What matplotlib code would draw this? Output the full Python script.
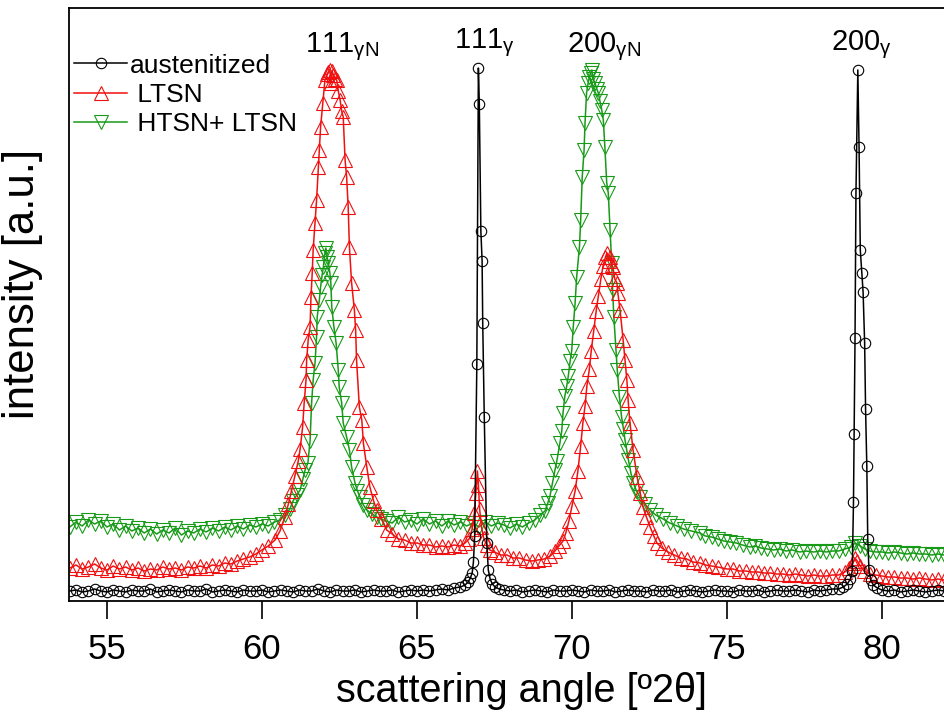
import matplotlib
matplotlib.use("Agg")
import matplotlib.pyplot as plt

# XRD scans (2theta in deg, intensity in a.u.)
aus = [(53.8,10),(54.0,11),(54.2,9),(54.4,10),(54.6,12),(54.8,10),(55.0,9),(55.2,11),(55.4,10),(55.6,9),
       (55.8,11),(56.0,10),(56.2,10),(56.4,12),(56.6,9),(56.8,10),(57.0,11),(57.2,10),(57.4,9),(57.6,11),
       (57.8,10),(58.0,10),(58.2,12),(58.4,9),(58.6,10),(58.8,11),(59.0,10),(59.2,9),(59.4,11),(59.6,10),
       (59.8,10),(60.0,11),(60.2,9),(60.4,10),(60.6,11),(60.8,10),(61.0,9),(61.2,11),(61.4,10),(61.6,10),
       (61.8,12),(62.0,10),(62.2,9),(62.4,11),(62.6,10),(62.8,10),(63.0,11),(63.2,9),(63.4,10),(63.6,11),
       (63.8,10),(64.0,10),(64.2,11),(64.4,9),(64.6,10),(64.8,11),(65.0,10),(65.2,11),(65.4,10),(65.6,11),
       (65.8,12),(66.0,11),(66.2,13),(66.4,14),(66.55,16),(66.65,19),(66.72,23),(66.78,28),(66.82,39),
       (66.86,65),(66.93,237),(66.98,533),(67.01,497),(67.06,370),(67.10,340),(67.12,278),(67.17,184),
       (67.25,58),(67.30,31),(67.36,22),(67.43,17),(67.52,14),(67.65,12),(67.8,11),(68.0,10),(68.2,11),
       (68.4,9),(68.6,10),(68.8,11),(69.0,10),(69.2,9),(69.4,11),(69.6,10),(69.8,10),(70.0,11),(70.2,10),
       (70.4,9),(70.6,11),(70.8,10),(71.0,10),(71.2,11),(71.4,9),(71.6,10),(71.8,11),(72.0,10),(72.2,10),
       (72.4,9),(72.6,11),(72.8,10),(73.0,10),(73.2,11),(73.4,9),(73.6,10),(73.8,11),(74.0,10),(74.2,9),
       (74.4,10),(74.6,11),(74.8,10),(75.0,10),(75.2,9),(75.4,11),(75.6,10),(75.8,10),(76.0,11),(76.2,9),
       (76.4,10),(76.6,11),(76.8,10),(77.0,10),(77.2,11),(77.4,10),(77.6,9),(77.8,11),(78.0,10),(78.2,11),
       (78.4,12),(78.6,12),(78.75,14),(78.88,17),(78.98,22),(79.04,30),(79.08,99),(79.10,167),(79.13,263),
       (79.16,408),(79.22,531),(79.26,454),(79.30,351),(79.35,328),(79.39,309),(79.44,258),(79.47,192),
       (79.51,135),(79.54,62),(79.58,31),(79.64,21),(79.72,16),(79.85,13),(80.0,11),(80.2,10),(80.4,11),
       (80.6,9),(80.8,10),(81.0,11),(81.2,10),(81.4,9),(81.6,10),(81.8,11),(82.0,10),(82.2,10),(82.4,11),
       (82.6,10)]

ltsn = [(53.8,33),(54.0,36),(54.2,32),(54.4,34),(54.6,37),(54.8,33),(55.0,31),(55.2,35),(55.4,32),(55.6,34),
        (55.8,31),(56.0,33),(56.2,30),(56.4,32),(56.6,31),(56.8,34),(57.0,32),(57.2,33),(57.4,31),(57.6,34),
        (57.8,33),(58.0,35),(58.2,33),(58.4,36),(58.6,35),(58.8,38),(59.0,37),(59.2,40),(59.4,42),(59.6,44),
        (59.8,47),(60.0,51),(60.2,55),(60.42,61),(60.58,70),(60.74,84),(60.85,97),(60.95,110),(61.06,125),
        (61.17,140),(61.23,152),(61.31,174),(61.36,198),(61.42,221),(61.44,241),(61.49,261),(61.55,274),
        (61.58,304),(61.62,328),(61.65,351),(61.71,378),(61.76,401),(61.82,434),(61.85,451),(61.89,474),
        (61.96,498),(62.03,521),(62.10,527),(62.14,529),(62.19,531),(62.22,518),(62.26,530),(62.30,526),
        (62.36,522),(62.41,521),(62.46,510),(62.52,501),(62.57,490),(62.62,484),(62.68,441),(62.73,424),
        (62.78,394),(62.82,354),(62.89,318),(62.98,291),(63.02,271),(63.05,241),(63.14,194),(63.22,181),
        (63.27,158),(63.38,134),(63.48,114),(63.60,100),(63.70,91),(63.85,82),(64.02,71),(64.2,67),(64.4,62),
        (64.6,61),(64.8,58),(65.0,58),(65.2,56),(65.4,56),(65.6,54),(65.8,55),(66.0,54),(66.2,56),(66.4,55),
        (66.55,58),(66.68,62),(66.78,72),(66.85,88),(66.90,108),(66.95,130),(66.98,116),(67.02,92),(67.08,74),
        (67.15,63),(67.25,56),(67.35,51),(67.5,49),(67.7,46),(67.9,46),(68.1,43),(68.3,43),(68.5,41),(68.7,40),
        (68.9,41),(69.1,42),(69.3,45),(69.45,50),(69.58,55),(69.71,60),(69.80,68),(69.90,80),(70.0,95),
        (70.10,110),(70.19,130),(70.28,155),(70.35,178),(70.42,195),(70.48,215),(70.56,232),(70.62,250),
        (70.70,270),(70.78,290),(70.85,305),(70.93,322),(71.0,335),(71.08,344),(71.13,348),(71.18,340),
        (71.23,344),(71.28,336),(71.32,334),(71.38,322),(71.45,318),(71.48,308),(71.55,291),(71.65,261),
        (71.71,241),(71.77,221),(71.81,201),(71.87,178),(71.97,151),(72.10,124),(72.20,108),(72.29,94),
        (72.40,84),(72.52,74),(72.64,65),(72.74,58),(72.9,53),(73.1,49),(73.3,46),(73.5,43),(73.7,42),
        (73.9,39),(74.13,38),(74.3,36),(74.5,35),(74.7,34),(75.0,32),(75.2,32),(75.4,30),(75.6,30),(75.8,29),
        (76.0,29),(76.2,28),(76.4,28),(76.6,27),(76.8,27),(77.0,26),(77.2,27),(77.4,26),(77.6,25),(77.8,26),
        (78.0,25),(78.2,25),(78.4,26),(78.6,26),(78.8,29),(78.95,33),(79.05,38),(79.13,43),(79.2,40),
        (79.3,35),(79.42,30),(79.6,27),(79.8,26),(80.0,25),(80.2,24),(80.4,24),(80.6,23),(80.8,23),(81.0,22),
        (81.2,23),(81.4,22),(81.6,21),(81.8,22),(82.0,21),(82.2,21),(82.4,20),(82.6,21)]

htsn = [(53.8,74),(54.0,79),(54.2,75),(54.4,81),(54.6,77),(54.8,80),(55.0,74),(55.2,77),(55.4,71),(55.6,75),
        (55.8,70),(56.0,73),(56.2,68),(56.4,72),(56.6,67),(56.8,71),(57.0,68),(57.2,73),(57.4,66),(57.6,70),
        (57.8,68),(58.0,72),(58.2,69),(58.4,73),(58.6,70),(58.8,74),(59.0,71),(59.2,75),(59.4,72),(59.6,76),
        (59.8,74),(60.0,77),(60.2,75),(60.4,79),(60.58,81),(60.74,86),(60.90,92),(61.0,100),(61.12,106),
        (61.23,111),(61.32,122),(61.39,131),(61.48,138),(61.55,160),(61.60,198),(61.65,221),(61.71,238),
        (61.76,264),(61.78,284),(61.85,301),(61.89,314),(61.94,326),(61.98,334),(62.03,348),(62.06,353),
        (62.10,344),(62.14,338),(62.19,328),(62.22,318),(62.25,294),(62.32,274),(62.39,258),(62.46,231),
        (62.49,214),(62.57,198),(62.62,178),(62.73,164),(62.82,151),(62.89,134),(63.0,118),(63.08,110),
        (63.16,104),(63.27,96),(63.38,91),(63.55,87),(63.70,84),(63.85,82),(64.0,80),(64.2,78),(64.4,84),
        (64.6,79),(64.8,81),(65.0,77),(65.2,82),(65.4,77),(65.6,80),(65.8,75),(66.0,80),(66.2,76),(66.4,79),
        (66.6,75),(66.8,78),(67.0,74),(67.2,79),(67.4,75),(67.6,78),(67.8,76),(68.0,73),(68.2,77),(68.4,74),
        (68.6,78),(68.8,81),(68.97,86),(69.13,90),(69.22,98),(69.29,105),(69.37,118),(69.45,131),(69.51,140),
        (69.61,158),(69.67,170),(69.71,188),(69.77,205),(69.83,215),(69.88,225),(69.94,240),(69.99,250),
        (70.04,274),(70.10,298),(70.15,324),(70.24,354),(70.28,381),(70.33,424),(70.39,451),(70.42,478),
        (70.47,508),(70.52,518),(70.56,524),(70.60,528),(70.64,531),(70.68,522),(70.74,518),(70.80,512),
        (70.85,508),(70.90,500),(70.96,491),(71.01,481),(71.06,454),(71.12,418),(71.17,408),(71.23,371),
        (71.28,338),(71.31,311),(71.35,284),(71.42,251),(71.46,231),(71.53,204),(71.60,184),(71.66,172),
        (71.71,161),(71.77,150),(71.82,141),(71.90,128),(71.98,118),(72.08,110),(72.19,104),(72.35,97),
        (72.52,91),(72.7,86),(72.94,82),(73.15,78),(73.39,75),(73.6,72),(73.85,70),(74.13,68),(74.3,65),
        (74.5,64),(74.7,62),(74.9,60),(75.1,59),(75.3,58),(75.5,56),(75.74,54),(75.9,55),(76.1,53),(76.3,52),
        (76.5,51),(76.7,52),(76.9,50),(77.1,51),(77.35,49),(77.55,50),(77.8,49),(78.0,50),(78.2,49),(78.4,50),
        (78.6,50),(78.8,52),(79.0,54),(79.13,58),(79.3,55),(79.45,52),(79.6,50),(79.8,49),(80.0,49),(80.2,48),
        (80.4,49),(80.6,48),(80.8,47),(81.0,48),(81.2,47),(81.4,47),(81.6,46),(81.8,47),(82.0,46),(82.2,46),
        (82.4,45),(82.6,46)]

# peak labels: text, left x, baseline y
peak_labels = [(r"111$_{\gamma N}$", 61.40, 549),
               (r"111$_{\gamma}$", 66.20, 553),
               (r"200$_{\gamma N}$", 69.85, 549),
               (r"200$_{\gamma}$", 78.37, 551)]

plt.rcParams["font.family"] = ["Liberation Sans", "DejaVu Sans"]
plt.rcParams["mathtext.fontset"] = "custom"
plt.rcParams["mathtext.rm"] = "Liberation Sans"
plt.rcParams["mathtext.it"] = "Liberation Sans"

fig = plt.figure(figsize=(9.44, 7.17), dpi=100)
ax = fig.add_axes([69/944, 116/717, 906/944, 593/717])

green = "#179a17"
red = "#f01010"

x, y = zip(*htsn)
l3, = ax.plot(x, y, color=green, lw=1.1, marker="v", ms=9.5, mfc="none", mew=0.8,
              label=" HTSN+ LTSN")
x, y = zip(*ltsn)
l2, = ax.plot(x, y, color=red, lw=1.1, marker="^", ms=9.5, mfc="none", mew=0.8, label=" LTSN")
x, y = zip(*aus)
l1, = ax.plot(x, y, color="black", lw=1.1, marker="o", ms=7.5, mfc="none", mew=0.8,
              label="austenitized")

for txt, px, py in peak_labels:
    ax.text(px, py, txt, fontsize=21, ha="left", va="baseline")

ax.set_xlim(53.774, 83.0)
ax.set_ylim(0, 593)
ax.set_xticks([55, 60, 65, 70, 75, 80])
ax.set_yticks([])
ax.tick_params(axis="x", direction="out", length=13, width=1.2, labelsize=25, pad=10)
for s in ax.spines.values():
    s.set_linewidth(1.3)

ax.set_xlabel("scattering angle [º2θ]", fontsize=28.5, labelpad=4)
ax.set_ylabel("intensity [a.u.]", fontsize=31.5)
ax.yaxis.set_label_coords(-0.029, 0.535)

ax.legend(handles=[l1, l2, l3], loc="upper left", frameon=False, fontsize=19,
          handlelength=2.0, handletextpad=0.1, labelspacing=0.2, borderaxespad=0.0,
          borderpad=0.2, bbox_to_anchor=(0.0, 0.932))

fig.savefig("out.png", dpi=100)
